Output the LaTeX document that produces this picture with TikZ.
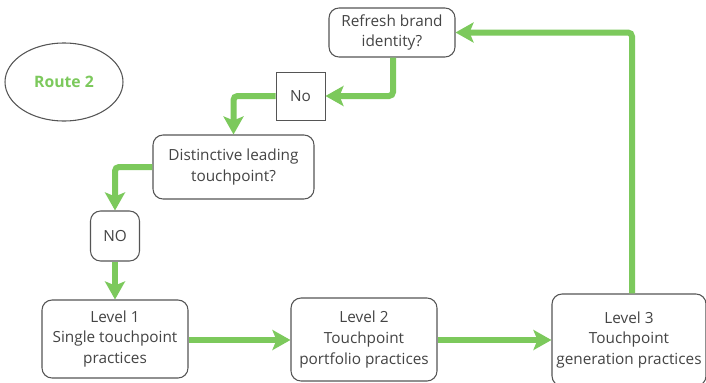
\documentclass[tikz,border=0pt]{standalone}
\usepackage{fontspec}
\setmainfont{Open Sans}
\usetikzlibrary{arrows.meta,shapes.geometric}
\definecolor{flowgreen}{HTML}{7CC95C}
\definecolor{boxline}{HTML}{555555}
\definecolor{boxtext}{HTML}{444444}
\begin{document}
\begin{tikzpicture}[x=0.75pt,y=-0.75pt,
  box/.style={draw=boxline,line width=0.8pt,rounded corners=7.5pt,fill=white,
    text=boxtext,align=center,font=\fontsize{11.5}{15.5}\selectfont,inner sep=1pt},
  sqbox/.style={box,rounded corners=0pt,line width=0.7pt},
  flow/.style={draw=flowgreen,line width=4.5pt,rounded corners=3pt,
    -{Stealth[length=13.5pt,width=15pt,inset=3pt]}}]
\useasboundingbox (0,0) rectangle (706,382);
\fill[white] (0,0) rectangle (706,382);

% start ellipse
\node (route) [draw=boxline,line width=0.8pt,ellipse,minimum width=88.5pt,minimum height=58.5pt,
  text=flowgreen,font=\fontsize{11.8}{14}\selectfont\bfseries] at (64,82) {Route 2};

% decision and answer boxes
\node (refresh) [box,minimum width=94.5pt,minimum height=36.75pt] at (392,32.5) {Refresh brand\\identity?};
\node (no1) [sqbox,minimum width=36.75pt,minimum height=36pt] at (300.5,96) {No};
\node (lead) [box,minimum width=120.75pt,minimum height=48pt] at (233.5,167) {Distinctive leading\\touchpoint?};
\node (no2) [box,minimum width=36.75pt,minimum height=37.5pt] at (115,236) {NO};

% maturity levels
\node (lv1) [box,minimum width=109.5pt,minimum height=58.5pt] at (115,339) {Level 1\\Single touchpoint\\practices};
\node (lv2) [box,minimum width=109.5pt,minimum height=62.25pt] at (364,339.5) {Level 2\\Touchpoint\\portfolio practices};
\node (lv3) [box,minimum width=115.5pt,minimum height=69pt] at (629,340) {Level 3\\Touchpoint\\generation practices};

% connectors
\draw[flow] (lv1.east |- 0,340) -- (lv2.west |- 0,340);
\draw[flow] (lv2.east |- 0,340) -- (lv3.west |- 0,340);
\draw[flow] (lv3.north -| 632,0) |- (refresh.east);
\draw[flow] (refresh.south -| 393,0) |- (no1.east);
\draw[flow] (no1.west) -| (lead.north);
\draw[flow] (lead.west) -| (no2.north);
\draw[flow] (no2.south) -- (lv1.north);
\end{tikzpicture}
\end{document}
